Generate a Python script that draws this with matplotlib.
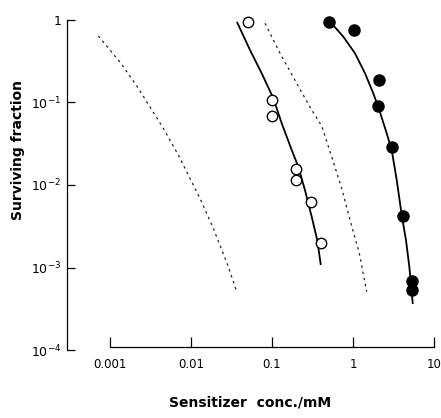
import numpy as np
import matplotlib
matplotlib.use('Agg')
import matplotlib.pyplot as plt

# open circles: one sensitizer
open_x = [0.051, 0.10, 0.10, 0.20, 0.198, 0.30, 0.40]
open_y = [0.95, 0.107, 0.069, 0.0155, 0.0115, 0.0062, 0.0020]
open_fit_x = [0.0373, 0.0535, 0.0746, 0.1038, 0.1318, 0.175, 0.211, 0.255, 0.309, 0.362, 0.399]
open_fit_y = [0.927, 0.433, 0.226, 0.1125, 0.056, 0.0266, 0.0167, 0.0087, 0.00413, 0.00215, 0.0011]

# filled circles: other sensitizer
fill_x = [0.51, 1.04, 2.09, 2.05, 3.06, 4.18, 5.3, 5.3]
fill_y = [0.95, 0.76, 0.19, 0.0917, 0.0287, 0.0042, 0.00068, 0.00053]
fill_fit_x = [0.52, 0.759, 1.058, 1.407, 1.781, 2.113, 2.606, 3.004, 3.465, 3.993, 4.51, 4.96, 5.46]
fill_fit_y = [0.955, 0.628, 0.395, 0.226, 0.129, 0.0811, 0.0423, 0.0266, 0.0115, 0.00433, 0.00215, 0.00102, 0.00037]

# dashed reference curves
dash1_x = [0.000718, 0.001367, 0.002236, 0.00455, 0.00697, 0.0129, 0.01884, 0.0284, 0.0367]
dash1_y = [0.64, 0.298, 0.1486, 0.0487, 0.0231, 0.0069, 0.00299, 0.00107, 0.00051]
dash2_x = [0.082, 0.1256, 0.2018, 0.309, 0.411, 0.546, 0.725, 0.918, 1.197, 1.476]
dash2_y = [0.912, 0.395, 0.1706, 0.0811, 0.0519, 0.022, 0.0091, 0.00377, 0.00149, 0.00051]

yticks = [1, 1e-1, 1e-2, 1e-3, 1e-4]
ytick_labels = ['1', r'$10^{-1}$', r'$10^{-2}$', r'$10^{-3}$', r'$10^{-4}$']
xticks = [0.001, 0.01, 0.1, 1, 10]
xtick_labels = ['0.001', '0.01', '0.1', '1', '10']

W, H = 441, 418
fig = plt.figure(figsize=(W / 100, H / 100), dpi=100)

# pixel mapping
def px_x(lg):
    return 353 + 81 * lg

def px_y(lg):
    return 20 - 82.5 * lg

xl = (-3.531, 1.025)
yl = (0.06, -4.03)
left, right = px_x(xl[0]), px_x(xl[1])
top, bottom = px_y(yl[0]), px_y(yl[1])
ax = fig.add_axes([left / W, 1 - bottom / H, (right - left) / W, (bottom - top) / H])
ax.set_xscale('log')
ax.set_yscale('log')
ax.set_xlim(10 ** xl[0], 10 ** xl[1])
ax.set_ylim(10 ** yl[1], 10 ** yl[0])

ax.plot(dash1_x, dash1_y, color='#222222', lw=0.9, dashes=(2.0, 3.0))
ax.plot(dash2_x, dash2_y, color='#222222', lw=0.9, dashes=(2.0, 3.0))
ax.plot(open_fit_x, open_fit_y, color='black', lw=1.3)
ax.plot(fill_fit_x, fill_fit_y, color='black', lw=1.3)
ax.plot(open_x, open_y, 'o', ms=7.5, mfc='white', mec='black', mew=1.0, clip_on=False)
ax.plot(fill_x, fill_y, 'o', ms=8, mfc='black', mec='black', clip_on=False)

for s in ['top', 'right']:
    ax.spines[s].set_visible(False)
ax.spines['left'].set_bounds(1e-4, 1)
ax.spines['bottom'].set_bounds(0.001, 10)
ax.spines['bottom'].set_position(('data', 10 ** -3.96))
ax.spines['left'].set_linewidth(0.9)
ax.spines['bottom'].set_linewidth(0.9)

ax.set_yticks(yticks)
ax.set_yticklabels(ytick_labels, fontsize=9)
ax.set_xticks(xticks)
ax.set_xticklabels(xtick_labels, fontsize=8.5)
ax.minorticks_off()
ax.tick_params(axis='y', direction='in', length=6, width=0.9, pad=4)
ax.tick_params(axis='x', direction='in', length=7, width=0.9, pad=8)

fig.text(18 / W, 1 - 150 / H, 'Surviving fraction', rotation=90, fontsize=10,
         fontweight='bold', ha='center', va='center')
fig.text(250 / W, 1 - 403 / H, 'Sensitizer  conc./mM', fontsize=10,
         fontweight='bold', ha='center', va='center')

fig.savefig('out.png', dpi=100)
